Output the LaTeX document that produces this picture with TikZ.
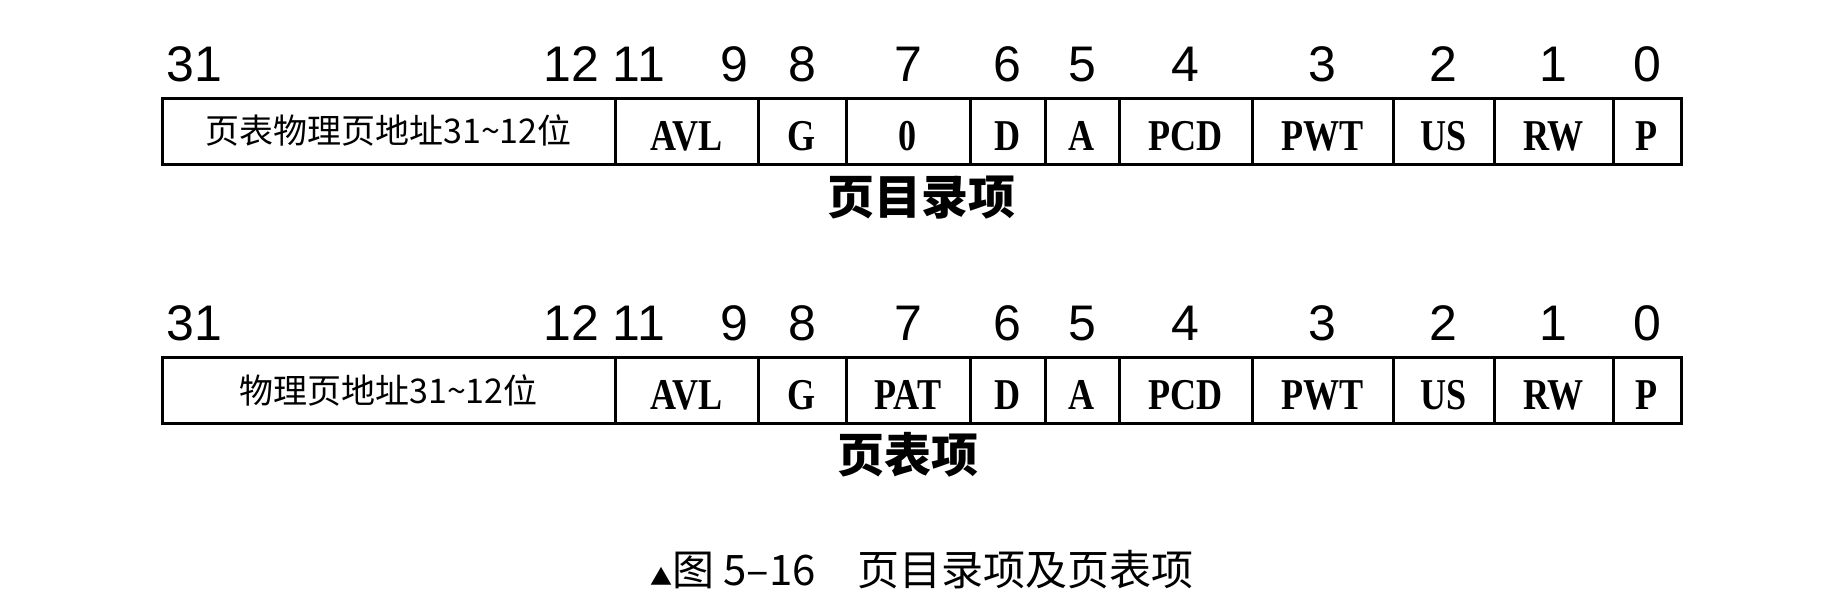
\documentclass[tikz,border=0pt]{standalone}
\usepackage{fontspec}
\setsansfont{Liberation Sans}
\newfontfamily\cjk{Noto Sans CJK SC}
\newfontfamily\fieldfont[FakeStretch=0.82]{Liberation Serif}
\usetikzlibrary{positioning}

\begin{document}
\begin{tikzpicture}[x=0.5pt,y=-0.5pt,
  box/.style={draw,line width=1.5pt,minimum height=33pt,inner sep=0pt},
  cell/.style={box,text height=19pt,text depth=0pt,font=\fieldfont\bfseries\fontsize{22pt}{24pt}\selectfont},
  addr/.style={box,font=\cjk\fontsize{17pt}{19pt}\selectfont},
  bitno/.style={inner sep=0pt,font=\sffamily\fontsize{25pt}{27pt}\selectfont},
  title/.style={inner sep=0pt,font=\cjk\bfseries\fontsize{23.5pt}{25pt}\selectfont},
  caption/.style={inner sep=0pt,font=\cjk\fontsize{21pt}{23pt}\selectfont},
]
\useasboundingbox (0,0) rectangle (1848,602);
% page directory entry (top) and page table entry (bottom)
\foreach \rw/\ytop/\addrtxt/\seven in {pde/98/页表物理页地址31\textasciitilde12位/0, pte/357/物理页地址31\textasciitilde12位/PAT}{
  \node[addr,minimum width=226.5pt] (\rw-addr) at (388.5,{\ytop+33}) {\addrtxt};
  \foreach \nm/\l/\r/\txt in {avl/615/758/AVL, g/758/846/G, b7/846/970/\seven, d/970/1045/D, a/1045/1119/A,
      pcd/1119/1252/PCD, pwt/1252/1393/PWT, us/1393/1494/US, rw/1494/1613/RW, p/1613/1681/P}
    \node[cell,minimum width={(\r-\l)*0.5pt}] (\rw-\nm) at ({(\l+\r)/2},{\ytop+33}) {\txt};
  % bit numbers above the fields
  \node[bitno,anchor=base west] (\rw-n31) at ([xshift=3pt,yshift=7.5pt]\rw-addr.north west) {31};
  \node[bitno,anchor=base east] (\rw-n12) at ([xshift=-8.5pt,yshift=7.5pt]\rw-addr.north east) {12};
  \node[bitno,anchor=base west] (\rw-n11) at ([xshift=-0.5pt,yshift=7.5pt]\rw-avl.north west) {11};
  \node[bitno,anchor=base east] (\rw-n9) at ([xshift=-5.5pt,yshift=7.5pt]\rw-avl.north east) {9};
  \foreach \nm/\bit in {g/8, b7/7, d/6, a/5, pcd/4, pwt/3, us/2, rw/1, p/0}
    \node[bitno,anchor=base] (\rw-n\bit) at ([yshift=7.5pt]\rw-\nm.north) {\bit};
}
\node[title] (pde-title) at ([xshift=6.5pt,yshift=-16pt]pde-b7.south) {页目录项};
\node[title] (pte-title) at ([yshift=-15pt]pte-b7.south) {页表项};
\node[caption] (fig-caption) at (922,570) {{\fontsize{11pt}{11pt}\selectfont ▲}图 5–16\quad 页目录项及页表项};
\end{tikzpicture}
\end{document}
